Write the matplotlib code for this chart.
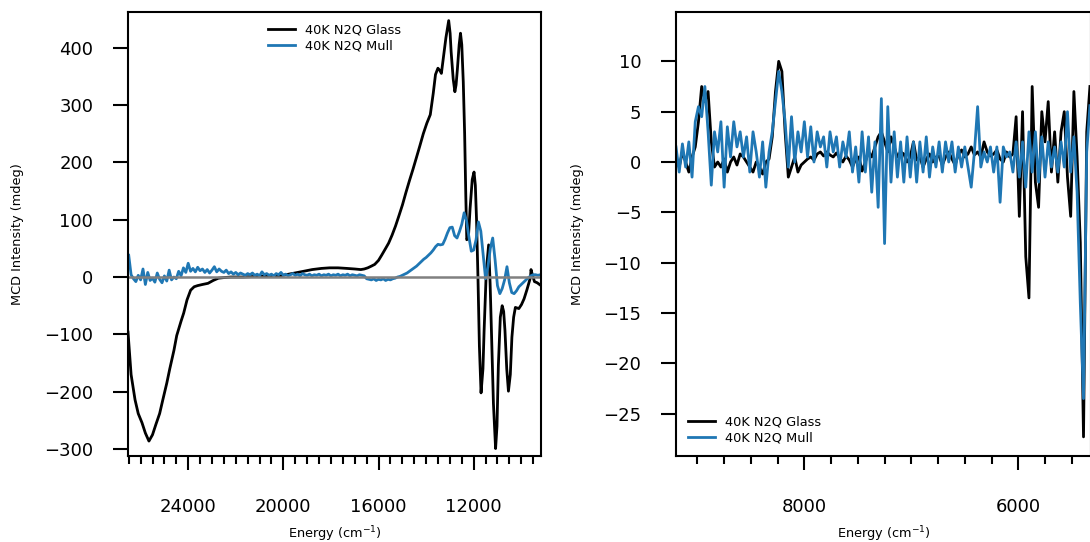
import numpy as np
import matplotlib
matplotlib.use("Agg")
import matplotlib.pyplot as plt
from matplotlib.ticker import MultipleLocator

# ---- left panel: visible / NIR region ----
glass_x = [26530, 26400, 26234, 26100, 25942, 25800, 25650, 25500, 25358, 25200,
           25066, 24900, 24774, 24600, 24482, 24300, 24190, 24050, 23898, 23750,
           23606, 23400, 23168, 22950, 22730, 22500, 22200, 21708, 21200, 20700,
           20248, 19900, 19518, 19150, 18788, 18400, 18058, 17700, 17328, 17000,
           16744, 16600, 16452, 16300, 16160, 16000, 15868, 15700, 15576, 15430,
           15284, 15140, 14992, 14850, 14700, 14550, 14408, 14260, 14116, 13970,
           13824, 13700, 13605, 13503, 13420, 13357, 13250, 13167, 13050, 12990,
           12948, 12860, 12790, 12740, 12685, 12610, 12554, 12500, 12437, 12380,
           12330, 12290, 12220, 12150, 12060, 11985, 11930, 11880, 11820, 11760,
           11690, 11610, 11561, 11470, 11371, 11310, 11254, 11170, 11079, 11020,
           10962, 10880, 10802, 10740, 10685, 10610, 10539, 10460, 10393, 10320,
           10247, 10101, 9990, 9882, 9760, 9663, 9610, 9590, 9540, 9444,
           9330, 9200]
glass_y = [-96, -170, -214, -238, -254, -272, -286, -275, -257, -238,
           -214, -185, -160, -128, -102, -77, -63, -40, -23, -17,
           -15, -13, -11, -6, -2, -1, 0, 0, 1, 2,
           1, 4, 7, 10, 13, 15, 16, 16, 15, 14,
           13, 14, 16, 19, 22, 29, 38, 50, 59, 73,
           89, 107, 126, 147, 168, 188, 208, 229, 250, 268,
           283, 320, 353, 364, 360, 355, 390, 417, 447, 425,
           393, 345, 323, 335, 362, 405, 425, 405, 340, 250,
           140, 65, 70, 120, 170, 183, 160, 100, 0, -120,
           -202, -160, -93, 10, 56, -10, -93, -220, -299, -260,
           -154, -70, -50, -60, -93, -160, -199, -170, -105, -70,
           -53, -55, -48, -38, -22, -8, 0, 13, 5, -8,
           -10, -14]

mull_x = np.arange(26500, 9150, -100)
mull_y = [38, 4, -3, -8, 3, -5, 14, -13, 8, -6,
          -2, -9, 7, -4, -10, 2, -7, 12, -5, 0,
          -3, 10, 2, 16, 8, 24, 10, 15, 9, 17,
          11, 14, 8, 13, 7, 12, 18, 9, 14, 10,
          8, 12, 6, 9, 5, 8, 4, 7, 5, 3,
          6, 4, 7, 3, 5, 2, 9, 4, 6, 3,
          5, 2, 6, 4, 8, 3, 5, 2, 4, 6,
          3, 5, 2, 6, 4, 3, 5, 2, 4, 3,
          5, 2, 4, 3, 5, 2, 4, 3, 5, 2,
          4, 3, 5, 2, 4, 3, 2, 4, 3, 2,
          -3, -4, -5, -3, -6, -4, -5, -3, -6, -4,
          -5, -3, -2, 0, 1, 3, 5, 7, 10, 13,
          16, 19, 23, 27, 31, 34, 38, 42, 47, 53,
          57, 56, 57, 66, 77, 86, 87, 72, 68, 79,
          92, 112, 98, 70, 45, 47, 65, 96, 80, 38,
          -3, 18, 50, 68, 30, -15, -29, -20, -5, 18,
          -10, -27, -29, -24, -17, -13, -9, -5, -1, 2,
          4, 4, 3, 4]

# ---- right panel: IR region ----
ir_x = np.arange(9200, 5320, -30)
ir_glass = [0.5, -0.5, 1.0, 0.0, -1.0, 0.5, 1.5, 4.0, 7.5, 6.0,
            7.0, 2.0, -0.5, 0.0, -0.5, 0.3, -1.0, 0.0, 0.5, -0.3,
            0.8, 0.5, 0.0, -0.5, -1.0, 0.0, -0.5, -1.2, 0.0, 0.3,
            2.5, 7.0, 10.0, 9.0, 3.0, -1.5, -0.5, 0.5, -1.0, -0.3,
            0.0, 0.3, 0.5, 0.2, 0.8, 1.0, 0.6, 1.0, 0.7, 0.5,
            0.9, 0.4, 0.0, 0.6, 0.2, -0.5, 0.3, 0.5, -0.9, 0.0,
            1.0, 0.5, 1.5, 2.5, 3.0, 2.0, 1.0, 2.5, 1.5, 0.5,
            1.0, 0.8, 0.0, 0.5, 2.0, 0.2, 0.5, -0.5, 0.3, 0.8,
            0.0, 0.5, 0.6, -0.3, 0.5, 1.0, 0.3, -0.3, 0.8, 1.2,
            0.5, 0.8, 1.5, 0.7, 1.0, 0.5, 2.0, 1.0, 0.6, 0.8,
            1.2, 0.3, 0.0, 1.0, 0.5, 0.8, 4.5, -5.4, 5.0, -9.4,
            -13.5, 7.5, -2.0, -4.5, 5.0, 2.0, 6.0, -1.0, 3.0, -2.0,
            3.0, 5.0, -1.5, -5.4, 7.0, 0.5, -8.0, -27.3, 3.0, 7.5]
ir_mull = [1.5, -1.0, 1.8, -0.5, 2.0, -1.5, 4.0, 5.5, 4.5, 7.5,
           3.0, -2.3, 3.0, 1.0, 4.0, -2.5, 3.5, 0.5, 4.0, 1.5,
           3.0, 0.5, 2.5, -1.0, 3.0, 1.0, -1.5, 2.0, -2.5, 1.0,
           3.0, 6.0, 9.0, 7.0, 4.0, -0.5, 4.5, 0.0, 3.0, 1.0,
           4.0, 0.5, 3.5, 0.0, 3.0, 1.5, 2.5, -0.5, 3.0, 1.0,
           2.5, -0.5, 2.0, 0.5, 3.0, -1.0, 1.5, -2.0, 3.0, -1.0,
           2.5, -3.0, 2.0, -4.5, 6.3, -8.1, 5.5, -2.0, 3.0, -1.5,
           2.0, -2.0, 2.5, -1.5, 2.0, -2.0, 2.0, -1.0, 2.5, -1.5,
           1.5, -0.5, 2.0, -1.0, 2.0, 0.0, 2.0, -1.0, 1.5, -0.5,
           1.5, -0.5, -2.5, 1.0, 5.5, -0.5, 1.0, 0.0, 1.5, -1.0,
           1.5, -4.0, 1.5, 0.5, 1.0, -1.0, 2.0, -1.5, 2.0, -2.5,
           3.0, -1.0, 3.0, -2.0, 2.5, -1.5, 2.0, -0.5, 1.5, -1.0,
           2.0, -0.5, 5.0, -1.0, 2.5, -3.0, -14.0, -23.5, 1.0, 5.6]

labels = ["40K N2Q Glass", "40K N2Q Mull"]
blue = "#1f77b4"


def style_axes(ax, major, minor, ylabelpad):
    for s in ax.spines.values():
        s.set_linewidth(1.5)
    ax.xaxis.set_major_locator(MultipleLocator(major))
    ax.xaxis.set_minor_locator(MultipleLocator(minor))
    ax.tick_params(axis="x", which="major", direction="out", length=10, width=1.5,
                   labelsize=13, pad=20)
    ax.tick_params(axis="x", which="minor", direction="out", length=6, width=1.5)
    ax.tick_params(axis="y", which="major", direction="out", length=11, width=1.5,
                   labelsize=13, pad=14)
    ax.set_xlabel("Energy (cm$^{-1}$)", fontsize=9.3, labelpad=6)
    ax.set_ylabel("MCD Intensity (mdeg)", fontsize=9.3, labelpad=ylabelpad)


fig = plt.figure(figsize=(10.9, 5.42), dpi=100)

ax1 = fig.add_axes([128 / 1090, 86 / 542, 413 / 1090, 444 / 542])
ax1.plot(glass_x, glass_y, color="black", lw=2, label=labels[0])
ax1.plot(mull_x, mull_y, color=blue, lw=2, label=labels[1])
ax1.axhline(0, color="gray", lw=1.8)
ax1.set_xlim(26530, 9170)
ax1.set_ylim(-312, 462)
ax1.yaxis.set_major_locator(MultipleLocator(100))
style_axes(ax1, 4000, 500, 14.5)
ax1.legend(loc="upper center", frameon=False, fontsize=9.3, handlelength=2.1,
           labelspacing=0.25)

ax2 = fig.add_axes([676 / 1090, 86 / 542, 415 / 1090, 444 / 542])
ax2.plot(ir_x, ir_glass, color="black", lw=2, label=labels[0])
ax2.plot(ir_x, ir_mull, color=blue, lw=2, label=labels[1])
ax2.set_xlim(9200, 5320)
ax2.set_ylim(-29.2, 14.9)
ax2.yaxis.set_major_locator(MultipleLocator(5))
style_axes(ax2, 2000, 250, 13.5)
ax2.legend(loc="lower left", frameon=False, fontsize=9.3, handlelength=2.1,
           labelspacing=0.25)

fig.savefig("out.png", dpi=100)
